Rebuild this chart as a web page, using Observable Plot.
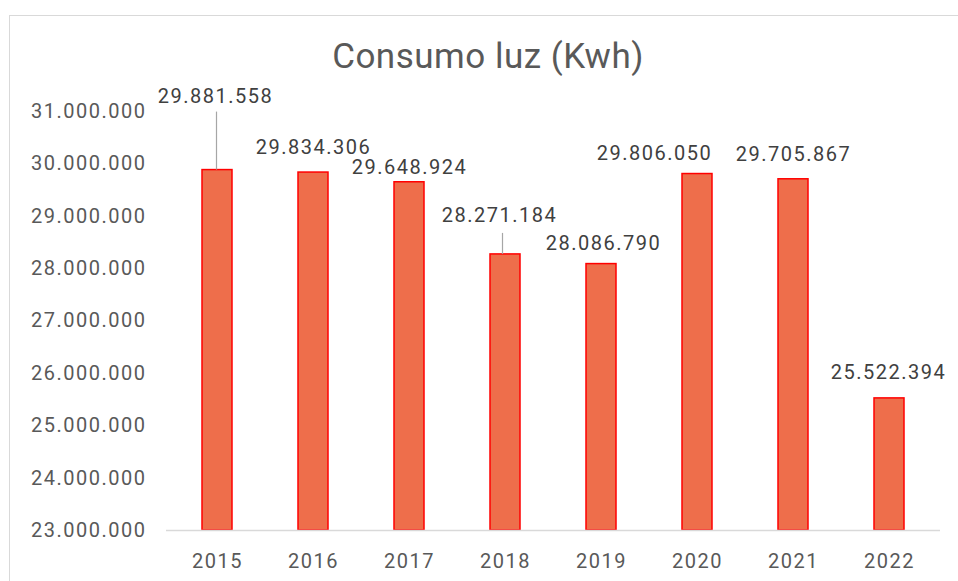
<!DOCTYPE html>
<html>
<head>
<meta charset="utf-8">
<script src="https://cdn.jsdelivr.net/npm/d3@7"></script>
<script src="https://cdn.jsdelivr.net/npm/@observablehq/plot@0.6"></script>
<style>
  html, body { margin: 0; padding: 0; background: #fff; overflow: hidden; width: 958px; height: 581px; }
  #frame { position: absolute; left: 9px; top: 15px; width: 1000px; height: 700px; border: 1px solid #d9d9d9; box-sizing: border-box; }
  #title { position: absolute; left: 0; top: 0; width: 976px; height: 85px; line-height: 114px; text-align: center;
           font-family: Roboto, "Open Sans", sans-serif; font-size: 35px; color: #595959; letter-spacing: 0.5px; }
  #chart { position: absolute; left: 0; top: 85px; }
</style>
</head>
<body>
<div id="frame"></div>
<div id="title">Consumo luz (Kwh)</div>
<div id="chart"></div>
<script>
const years = ["2015", "2016", "2017", "2018", "2019", "2020", "2021", "2022"];
const consumo = [29881558, 29834306, 29648924, 28271184, 28086790, 29806050, 29705867, 25522394];
const yTicks = [23000000, 24000000, 25000000, 26000000, 27000000, 28000000, 29000000, 30000000, 31000000];

// label placement (pixel offsets from bar top), kept apart from the data
const labelDx = [-2, 0, 0, -6, 2, -43, 0, -1];
const labelDy = [-73, -25, -15, -39, -20, -20, -25, -26];
const leaderIndex = [0, 3];
const leaderLen = [58, 21];
const leaderDx = [-1, -3];

const loc = d3.formatLocale({decimal: ",", thousands: ".", grouping: [3], currency: ["", ""]});
const fmt = loc.format(",d");

const data = years.map((year, i) => ({year, value: consumo[i]}));
const yMin = yTicks[0], yMax = yTicks[yTicks.length - 1];

const labelMarks = data.map((d, i) => Plot.text([d], {
  x: "year", y: "value", text: r => fmt(r.value),
  dx: labelDx[i], dy: labelDy[i], fill: "#404040", fontSize: 20
}));
const leaderMarks = leaderIndex.map((idx, k) => Plot.ruleX([data[idx]], {
  x: "year", y1: "value", y2: "value", insetTop: -leaderLen[k], dx: leaderDx[k],
  stroke: "#a6a6a6", strokeWidth: 1.2
}));

const chart = Plot.plot({
  width: 958,
  height: 496,
  marginTop: 26,
  marginBottom: 51,
  marginLeft: 166,
  marginRight: 18,
  style: {fontFamily: "Roboto, 'Open Sans', sans-serif", fontSize: "20px", letterSpacing: "1.5px", color: "#595959", background: "transparent", overflow: "visible"},
  x: {domain: years, paddingInner: 0.69, paddingOuter: 0.345, label: null, axis: null},
  y: {domain: [yMin, yMax], label: null, axis: null},
  marks: [
    Plot.barY(data, {x: "year", y1: () => yMin, y2: "value", fill: "#EE6E4B", stroke: "#FF0000", strokeWidth: 1.5}),
    Plot.ruleY([yMin], {stroke: "#d9d9d9", strokeWidth: 1.5}),
    Plot.axisY(yTicks, {tickFormat: fmt, tickSize: 0, tickPadding: 20, fill: "#595959", fontSize: 20, label: null}),
    Plot.axisX({tickSize: 0, tickPadding: 23, fill: "#595959", fontSize: 20, label: null}),
    ...leaderMarks,
    ...labelMarks
  ]
});
document.getElementById("chart").appendChild(chart);
</script>
</body>
</html>
